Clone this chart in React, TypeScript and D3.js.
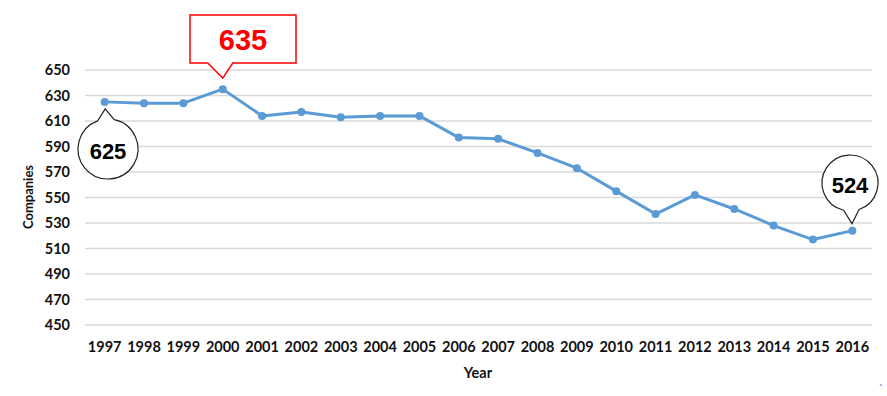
import * as d3 from 'd3'
import { useEffect, useRef } from 'react'

const years = ['1997', '1998', '1999', '2000', '2001', '2002', '2003', '2004', '2005', '2006',
  '2007', '2008', '2009', '2010', '2011', '2012', '2013', '2014', '2015', '2016']
const companies = [625, 624, 624, 635, 614, 617, 613, 614, 614, 597,
  596, 585, 573, 555, 537, 552, 541, 528, 517, 524]
const yTicks = [450, 470, 490, 510, 530, 550, 570, 590, 610, 630, 650]

const width = 887, height = 396
const left = 85, right = 872, top = 70, bottom = 325
const tickFont = 'Lato, "DejaVu Sans", sans-serif'

const chart = (node: SVGSVGElement) => {
  const svg = d3.select(node)
  svg.selectAll('*').remove()

  const x = d3.scalePoint<string>().domain(years).range([left, right]).padding(0.5)
  const y = d3.scaleLinear().domain([450, 650]).range([bottom, top])

  // gridlines
  svg.append('g')
    .selectAll('line')
    .data(yTicks)
    .join('line')
    .attr('x1', left).attr('x2', right)
    .attr('y1', d => y(d)).attr('y2', d => y(d))
    .attr('stroke', '#d9d9d9')
    .attr('stroke-width', 1.5)

  svg.append('g')
    .attr('font-family', tickFont)
    .attr('font-weight', 'bold')
    .attr('font-size', 14.5)
    .attr('fill', '#111')
    .selectAll('text')
    .data(yTicks)
    .join('text')
    .attr('x', 70)
    .attr('y', d => y(d))
    .attr('dy', '0.36em')
    .attr('text-anchor', 'end')
    .text(d => d)

  svg.append('g')
    .attr('font-family', tickFont)
    .attr('font-weight', 'bold')
    .attr('font-size', 14.5)
    .attr('fill', '#111')
    .selectAll('text')
    .data(years)
    .join('text')
    .attr('x', d => x(d)!)
    .attr('y', 347)
    .attr('dy', '0.36em')
    .attr('text-anchor', 'middle')
    .text(d => d)

  svg.append('text')
    .attr('x', 478).attr('y', 373).attr('dy', '0.36em')
    .attr('text-anchor', 'middle')
    .attr('font-family', tickFont).attr('font-weight', 'bold').attr('font-size', 14.5)
    .attr('fill', '#111')
    .text('Year')

  svg.append('text')
    .attr('transform', `translate(28,197) rotate(-90)`)
    .attr('dy', '0.36em')
    .attr('text-anchor', 'middle')
    .attr('font-family', tickFont).attr('font-weight', 'bold').attr('font-size', 13)
    .attr('fill', '#111')
    .text('Companies')

  // line
  const line = d3.line<number>()
    .x((_, i) => x(years[i])!)
    .y(d => y(d))
  svg.append('path')
    .datum(companies)
    .attr('fill', 'none')
    .attr('stroke', '#5b9bd5')
    .attr('stroke-width', 3)
    .attr('stroke-linejoin', 'round')
    .attr('d', line)

  svg.append('g')
    .selectAll('circle')
    .data(companies)
    .join('circle')
    .attr('cx', (_, i) => x(years[i])!)
    .attr('cy', d => y(d))
    .attr('r', 4)
    .attr('fill', '#5b9bd5')

  // round callouts
  const roundCallout = (i: number, cx: number, cy: number, r: number) => {
    const px = x(years[i])!, py = y(companies[i])
    const ang = Math.atan2(py - cy, px - cx)
    const spread = 0.28
    const a1 = ang - spread, a2 = ang + spread
    const tipX = px - Math.cos(ang) * 7, tipY = py - Math.sin(ang) * 7
    const p = d3.path()
    p.moveTo(cx + r * Math.cos(a2), cy + r * Math.sin(a2))
    p.arc(cx, cy, r, a2, a1 + 2 * Math.PI)
    p.lineTo(tipX, tipY)
    p.closePath()
    svg.append('path')
      .attr('d', p.toString())
      .attr('fill', 'white')
      .attr('stroke', '#222')
      .attr('stroke-width', 1.2)
    svg.append('text')
      .attr('x', cx).attr('y', cy + 2).attr('dy', '0.36em')
      .attr('text-anchor', 'middle')
      .attr('font-family', '"Liberation Sans", Arial, sans-serif')
      .attr('font-weight', 'bold')
      .attr('font-size', 22)
      .attr('fill', '#000')
      .text(companies[i])
  }
  roundCallout(0, 108, 149, 30)
  roundCallout(19, 850, 183, 28)

  // red rectangular callout for peak
  const pi = companies.indexOf(d3.max(companies)!)
  const tx = x(years[pi])!, ty = y(companies[pi]) - 11
  const bx0 = 190, bx1 = 296, by0 = 15, by1 = 63
  svg.append('path')
    .attr('d', `M${bx0},${by0}H${bx1}V${by1}H${tx + 10}L${tx},${ty}L${tx - 15},${by1}H${bx0}Z`)
    .attr('fill', 'white')
    .attr('stroke', '#ff0000')
    .attr('stroke-width', 1.5)
  svg.append('text')
    .attr('x', (bx0 + bx1) / 2).attr('y', 40).attr('dy', '0.36em')
    .attr('text-anchor', 'middle')
    .attr('font-family', '"Liberation Sans", Arial, sans-serif')
    .attr('font-weight', 'bold')
    .attr('font-size', 29)
    .attr('fill', '#ff0000')
    .text(companies[pi])

  svg.append('text')
    .attr('x', 879).attr('y', 392)
    .attr('font-size', 11)
    .attr('fill', '#1a1acc')
    .text('`')
}

export default function App() {
  const ref = useRef<SVGSVGElement>(null)
  useEffect(() => {
    if (ref.current) chart(ref.current)
  }, [])
  return (
    <svg ref={ref} width={width} height={height}
      style={{ position: 'absolute', left: 0, top: 0, background: 'white' }} />
  )
}
